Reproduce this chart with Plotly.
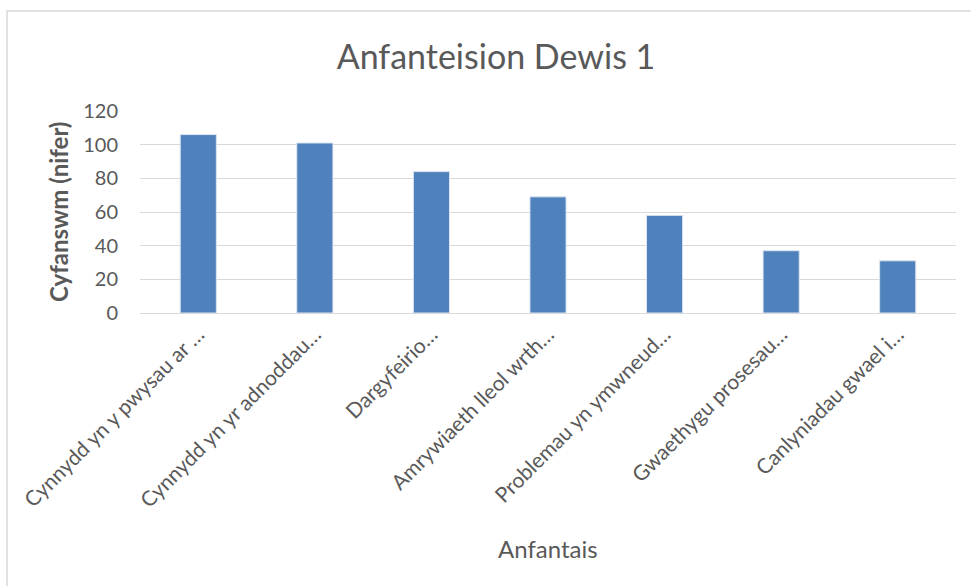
import plotly.graph_objects as go

categories = [
    "Cynnydd yn y pwysau ar …",
    "Cynnydd yn yr adnoddau…",
    "Dargyfeirio…",
    "Amrywiaeth lleol wrth…",
    "Problemau yn ymwneud…",
    "Gwaethygu prosesau…",
    "Canlyniadau gwael i…",
]
counts = [106, 101, 84, 69, 58, 37, 31]
y_ticks = [0, 20, 40, 60, 80, 100, 120]

W, H = 971, 586
L, R, T, B = 140, 15, 111, 273
pw, ph = W - L - R, H - T - B

FONT = "Lato, Carlito, 'Open Sans', sans-serif"
GREY = "#595959"

fig = go.Figure(
    go.Bar(
        x=categories,
        y=counts,
        width=0.31,
        marker=dict(color="#4f81bd", line=dict(color="#dce6f2", width=1)),
        hovertemplate="%{x}: %{y}<extra></extra>",
    )
)

fig.update_layout(
    width=W,
    height=H,
    margin=dict(l=L, r=R, t=T, b=B),
    paper_bgcolor="white",
    plot_bgcolor="white",
    font=dict(family=FONT, color=GREY, size=16),
    showlegend=False,
    title=dict(
        text="Anfanteision Dewis 1",
        x=496 / W, xanchor="center",
        y=1 - 57 / H, yanchor="middle",
        font=dict(size=34, color=GREY),
    ),
    xaxis=dict(
        tickangle=-45,
        showgrid=False,
        showline=True,
        linecolor="#d9d9d9",
        linewidth=1,
        ticks="",
        tickfont=dict(size=21, color=GREY),
    ),
    yaxis=dict(
        range=[0, 120],
        tickvals=y_ticks,
        showgrid=True,
        gridcolor="#d9d9d9",
        gridwidth=1,
        zeroline=False,
        ticks="",
        ticklabelstandoff=21,
        tickfont=dict(size=20, color=GREY),
    ),
)

# axis titles placed by hand to sit where the Excel chart has them
fig.add_annotation(
    text="Anfantais",
    xref="paper", yref="paper",
    x=(548 - L) / pw, y=-(548 - (H - B)) / ph,
    xanchor="center", yanchor="middle",
    showarrow=False,
    font=dict(size=24, color=GREY),
)
fig.add_annotation(
    text="<b>Cyfanswm (nifer)</b>",
    xref="paper", yref="paper",
    x=(58 - L) / pw, y=0.5,
    xanchor="center", yanchor="middle",
    textangle=-90,
    showarrow=False,
    font=dict(size=24, color=GREY),
)

# light frame round the chart area (Excel-style chart border)
fig.add_shape(
    type="rect",
    xref="paper", yref="paper",
    x0=(7 - L) / pw, x1=(W + 5 - L) / pw,
    y0=-(H + 5 - T - ph) / ph, y1=(H - 11 - B) / ph,
    line=dict(color="#d9d9d9", width=1.5),
    fillcolor="rgba(0,0,0,0)",
    layer="below",
)

# drop the browser's default 8px body margin so the chart sits at 0,0
fig.write_html(
    "out.html",
    config={"displayModeBar": False},
    post_script="document.body.style.margin='0';",
)
